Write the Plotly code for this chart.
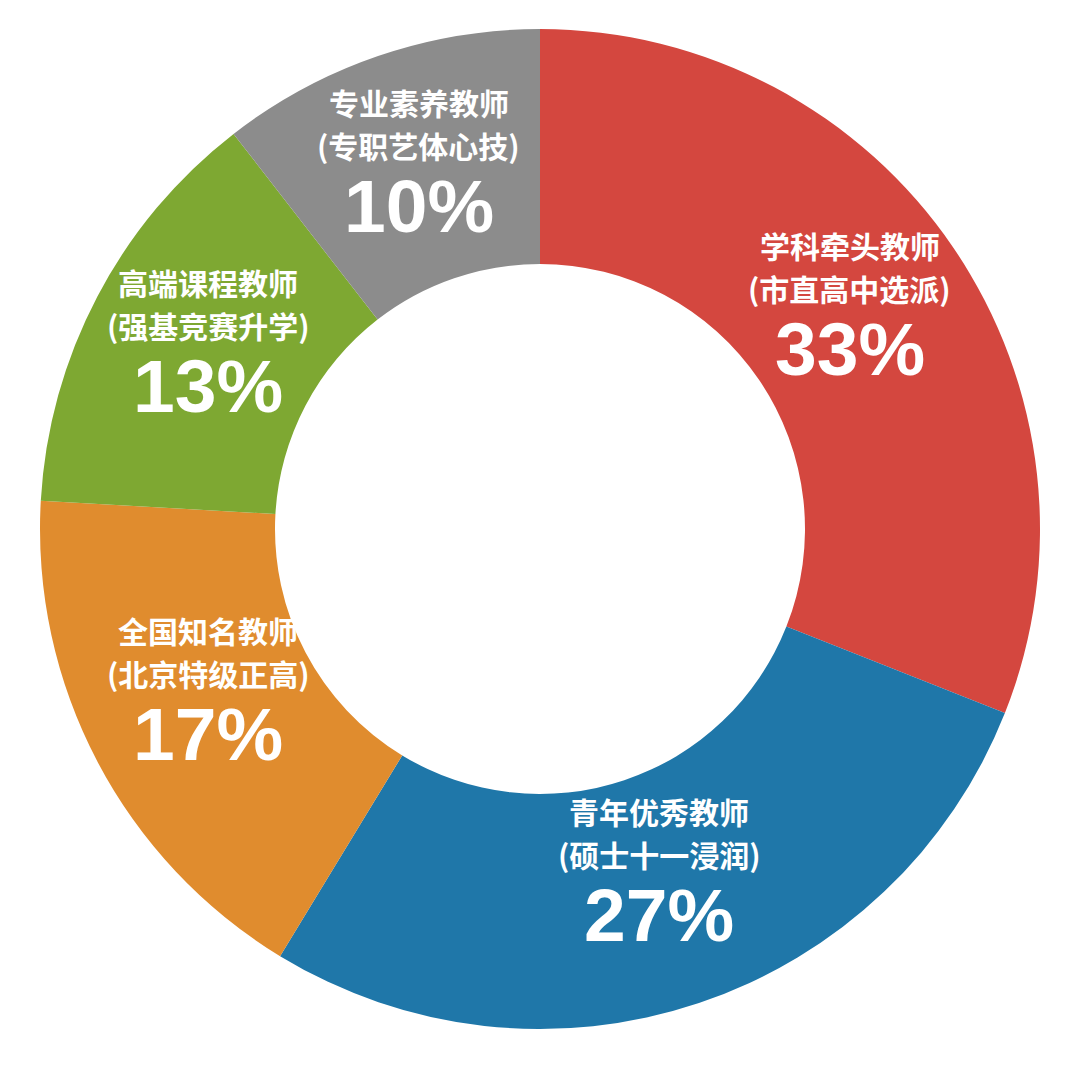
import numpy as np
import plotly.graph_objects as go

# Data (slice shares; labels as printed)
names = ["学科牵头教师", "青年优秀教师", "全国知名教师", "高端课程教师", "专业素养教师"]
subtitles = ["(市直高中选派)", "(硕士十一浸润)", "(北京特级正高)", "(强基竞赛升学)", "(专职艺体心技)"]
shares = [31.0, 27.7, 17.2, 13.6, 10.5]
pct_labels = ["33%", "27%", "17%", "13%", "10%"]
colors = ["#D4473F", "#1F77A9", "#E08C2E", "#7EA832", "#8C8C8C"]

W, H = 1072, 1064
ML, MR, MT, MB = 32, 40, 21, 43
plot_w = W - ML - MR
plot_h = H - MT - MB
R_OUT = min(plot_w, plot_h) / 2
HOLE = 0.53
R_LAB = R_OUT * (1 + HOLE) / 2 - 8

fig = go.Figure(go.Pie(
    labels=names,
    values=shares,
    sort=False,
    direction="clockwise",
    rotation=0,
    hole=HOLE,
    marker=dict(colors=colors, line=dict(width=0)),
    textinfo="none",
    hoverinfo="label+percent",
    showlegend=False,
))

# label positions from cumulative shares
vals = np.array(shares, dtype=float)
cum = np.cumsum(vals) / vals.sum()
mid = (cum - vals / vals.sum() / 2) * 2 * np.pi

font_name = dict(family="Noto Sans CJK SC", size=30, color="white", weight="bold")
font_pct = dict(family="Liberation Sans", size=75, color="white", weight="bold")

annotations = []
for i, th in enumerate(mid):
    xp = 0.5 + R_LAB * np.sin(th) / plot_w
    yp = 0.5 + R_LAB * np.cos(th) / plot_h
    for txt, shift, fnt in [(names[i], 73, font_name),
                            (subtitles[i], 30, font_name),
                            (pct_labels[i], -31, font_pct)]:
        annotations.append(dict(
            x=xp, y=yp, xref="paper", yref="paper",
            text=txt, showarrow=False, font=fnt,
            xanchor="center", yanchor="middle", yshift=shift,
        ))

fig.update_layout(
    width=W, height=H,
    margin=dict(l=ML, r=MR, t=MT, b=MB),
    paper_bgcolor="white",
    plot_bgcolor="white",
    annotations=annotations,
)

fig.write_html("out.html")
